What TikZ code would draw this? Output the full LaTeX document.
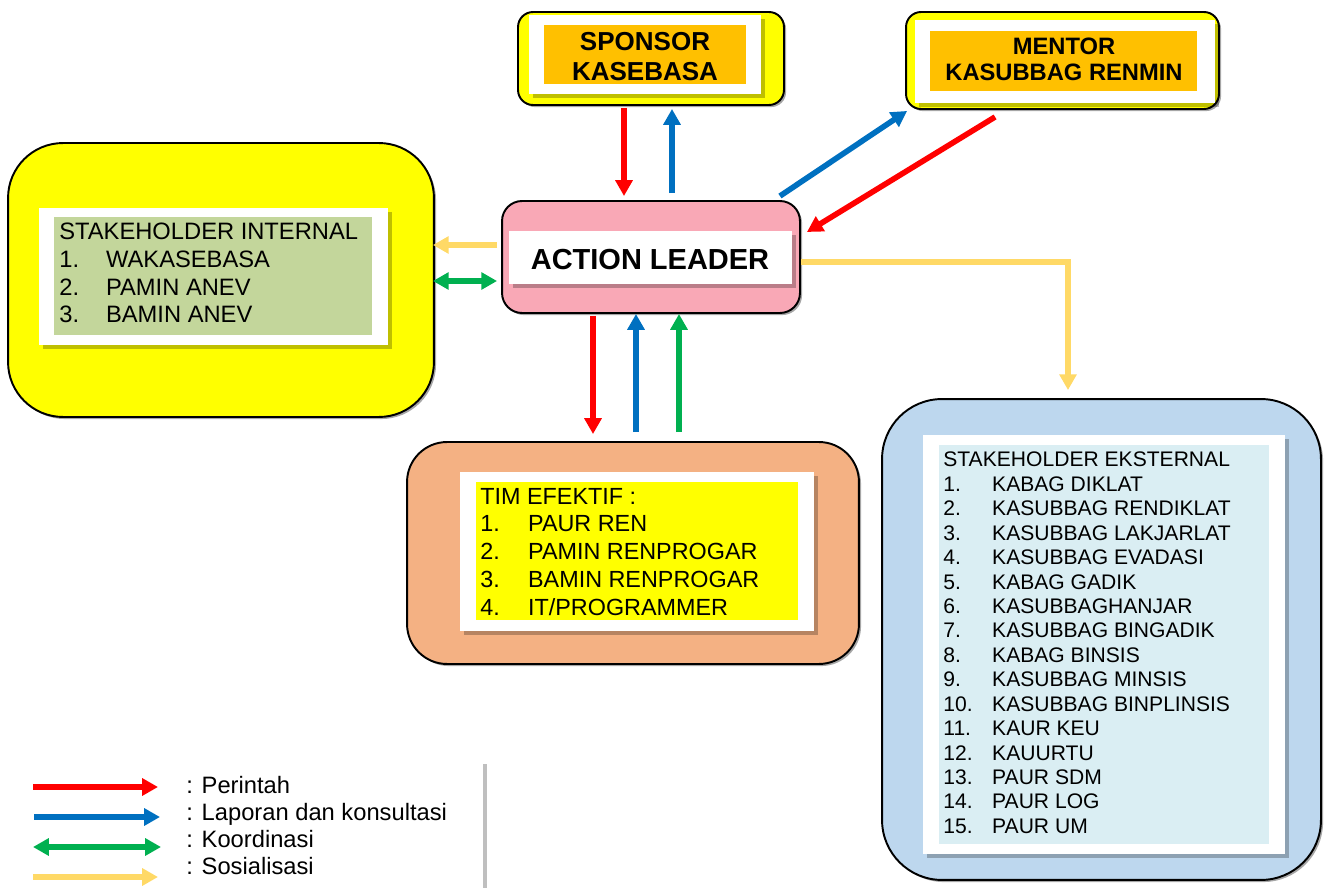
\documentclass[tikz,border=0pt]{standalone}
\usepackage{fontspec}
\setmainfont{Liberation Sans}
\usetikzlibrary{arrows.meta,calc,shadows}
\definecolor{yel}{RGB}{255,255,0}
\definecolor{org}{RGB}{255,192,0}
\definecolor{pinkbox}{RGB}{249,168,182}
\definecolor{peach}{RGB}{244,177,131}
\definecolor{lblue}{RGB}{189,215,238}
\definecolor{pblue}{RGB}{218,238,243}
\definecolor{lgreen}{RGB}{195,214,155}
\definecolor{cred}{RGB}{255,0,0}
\definecolor{cblue}{RGB}{0,112,192}
\definecolor{cgreen}{RGB}{0,176,80}
\definecolor{cyel}{RGB}{255,217,102}
\tikzset{
  outerbox/.style={draw=black, line width=1.1pt, inner sep=0pt, rectangle,
    drop shadow={shadow xshift=1.2pt, shadow yshift=-1.2pt, opacity=0.35, fill=black}},
  whitebox/.style={fill=white, inner sep=0pt, rectangle,
    drop shadow={shadow xshift=2.2pt, shadow yshift=-2.2pt, opacity=0.25, fill=black}},
  flatbox/.style={inner sep=0pt, rectangle},
  txt/.style={inner sep=0pt, anchor=base west},
  arr/.style={line width=3.2pt, -{Triangle[length=9pt,width=9.5pt]}},
  darr/.style={line width=3.2pt, {Triangle[length=9pt,width=9.5pt]}-{Triangle[length=9pt,width=9.5pt]}},
}
\begin{document}
\begin{tikzpicture}[x=0.02cm,y=-0.02cm]
\useasboundingbox (0,0) rectangle (1329,888);

% ---- Sponsor
\node[outerbox, fill=yel, rounded corners=0.3cm, minimum width=5.32cm, minimum height=1.86cm] (sponO) at (651,58.5) {};
\node[whitebox, minimum width=4.64cm, minimum height=1.58cm] (sponW) at (645,54.5) {};
\node[flatbox, fill=org, minimum width=4.04cm, minimum height=1.18cm] (sponI) at (645,54.5) {};
\node[inner sep=0pt, anchor=base, font=\fontsize{14.8}{17}\selectfont\bfseries] (sponT) at (645,51)
  {\begin{tabular}[t]{@{}c@{}}SPONSOR\\KASEBASA\end{tabular}};

% ---- Mentor
\node[outerbox, fill=yel, rounded corners=0.3cm, minimum width=6.26cm, minimum height=1.94cm] (menO) at (1062.5,60.5) {};
\node[whitebox, minimum width=6.0cm, minimum height=1.66cm] (menW) at (1065,61.5) {};
\node[flatbox, fill=org, minimum width=5.34cm, minimum height=1.2cm] (menI) at (1063.5,61) {};
\node[inner sep=0pt, anchor=base, font=\fontsize{13.5}{14.4}\selectfont\bfseries] (menT) at (1064,55)
  {\begin{tabular}[t]{@{}c@{}}MENTOR\\KASUBBAG RENMIN\end{tabular}};

% ---- Stakeholder internal
\node[outerbox, fill=yel, rounded corners=1.1cm, minimum width=8.52cm, minimum height=5.48cm] (intO) at (221,280) {};
\node[whitebox, minimum width=6.98cm, minimum height=2.74cm] (intW) at (213.5,276.5) {};
\node[flatbox, fill=lgreen, minimum width=6.36cm, minimum height=2.36cm] (intI) at (213,276) {};
\node[txt, font=\fontsize{13.5}{15.7}\selectfont] (intT) at (59,240)
  {\begin{tabular}[t]{@{}p{26.6pt}@{}l@{}}\multicolumn{2}{@{}l@{}}{STAKEHOLDER INTERNAL}\\
  1. & WAKASEBASA\\ 2. & PAMIN ANEV\\ 3. & BAMIN ANEV\end{tabular}};

% ---- Action leader
\node[outerbox, fill=pinkbox, rounded corners=0.4cm, minimum width=5.96cm, minimum height=2.24cm] (actO) at (651,257) {};
\node[whitebox, minimum width=5.66cm, minimum height=1.06cm] (actW) at (650.5,257.5) {};
\node[inner sep=0pt, anchor=base, font=\fontsize{16.5}{19}\selectfont\bfseries] (actT) at (650,270) {ACTION LEADER};

% ---- Tim efektif
\node[outerbox, fill=peach, rounded corners=0.8cm, minimum width=9.04cm, minimum height=4.44cm] (timO) at (633,553) {};
\node[whitebox, minimum width=7.08cm, minimum height=3.18cm] (timW) at (637,551.5) {};
\node[flatbox, fill=yel, minimum width=6.44cm, minimum height=2.76cm] (timI) at (637,551) {};
\node[txt, font=\fontsize{13.3}{15.8}\selectfont] (timT) at (480,504)
  {\begin{tabular}[t]{@{}p{27.2pt}@{}l@{}}\multicolumn{2}{@{}l@{}}{TIM EFEKTIF :}\\
  1. & PAUR REN\\ 2. & PAMIN RENPROGAR\\ 3. & BAMIN RENPROGAR\\ 4. & IT/PROGRAMMER\end{tabular}};

% ---- Stakeholder eksternal
\node[outerbox, fill=lblue, rounded corners=1.2cm, minimum width=8.78cm, minimum height=9.62cm] (ekO) at (1101.5,639.5) {};
\node[whitebox, minimum width=7.24cm, minimum height=8.38cm] (ekW) at (1104,644.5) {};
\node[flatbox, fill=pblue, minimum width=6.6cm, minimum height=7.98cm] (ekI) at (1104,644.5) {};
\node[txt, font=\fontsize{12}{13.9}\selectfont] (ekT) at (943,467)
  {\begin{tabular}[t]{@{}p{27.8pt}@{}l@{}}\multicolumn{2}{@{}l@{}}{STAKEHOLDER EKSTERNAL}\\
  1. & KABAG DIKLAT\\ 2. & KASUBBAG RENDIKLAT\\ 3. & KASUBBAG LAKJARLAT\\
  4. & KASUBBAG EVADASI\\ 5. & KABAG GADIK\\ 6. & KASUBBAGHANJAR\\
  7. & KASUBBAG BINGADIK\\ 8. & KABAG BINSIS\\ 9. & KASUBBAG MINSIS\\
  10. & KASUBBAG BINPLINSIS\\ 11. & KAUR KEU\\ 12. & KAUURTU\\
  13. & PAUR SDM\\ 14. & PAUR LOG\\ 15. & PAUR UM\end{tabular}};

% ---- Legend
\node[whitebox, minimum width=6.34cm, minimum height=3.0cm] (legW) at (324.5,835) {};
\node[txt, font=\fontsize{13.5}{15.5}\selectfont] (legT) at (186,793)
  {\begin{tabular}[t]{@{}l@{}}: Perintah\\ : Laporan dan konsultasi\\ : Koordinasi\\ : Sosialisasi\end{tabular}};
\coordinate (l1a) at (33,787);  \coordinate (l1b) at (158,787);
\coordinate (l2a) at (34,817);  \coordinate (l2b) at (160,817);
\coordinate (l3a) at (33,847);  \coordinate (l3b) at (161,847);
\coordinate (l4a) at (33,877);  \coordinate (l4b) at (158,877);
\draw[arr, cred] (l1a) -- (l1b);
\draw[arr, cblue] (l2a) -- (l2b);
\draw[darr, cgreen] (l3a) -- (l3b);
\draw[arr, cyel] (l4a) -- (l4b);

% ---- Connectors
\draw[arr, cred] ($(sponO.south)+(-27,2)$) -- ($(actO.north)+(-27,-4)$);
\draw[arr, cblue] ($(actO.north)+(21,-7)$) -- ($(sponO.south)+(21,3)$);
\draw[arr, cblue] ($(actO.north east)+(-21,-4)$) -- ($(menO.south west)+(2,1)$);
\draw[arr, cred] ($(menO.south west)+(90,7)$) -- ($(actO.east)+(6,-25)$);
\draw[arr, cyel] ($(actO.west)+(-4,-12)$) -- ($(intO.east)+(-2,-35)$);
\draw[darr, cgreen] ($(intO.east)+(-2,1)$) -- ($(actO.west)+(-4,24)$);
\draw[arr, cyel] ($(actO.east)+(0,5)$) -| ($(ekO.north)+(-33.5,-8)$);
\draw[arr, cred] ($(actO.south)+(-58,2)$) -- ($(timO.north)+(-40,-7)$);
\draw[arr, cblue] ($(timO.north)+(3,-9)$) -- ($(actO.south)+(-15,0)$);
\draw[arr, cgreen] ($(timO.north)+(46,-9)$) -- ($(actO.south)+(28,0)$);
\end{tikzpicture}
\end{document}
